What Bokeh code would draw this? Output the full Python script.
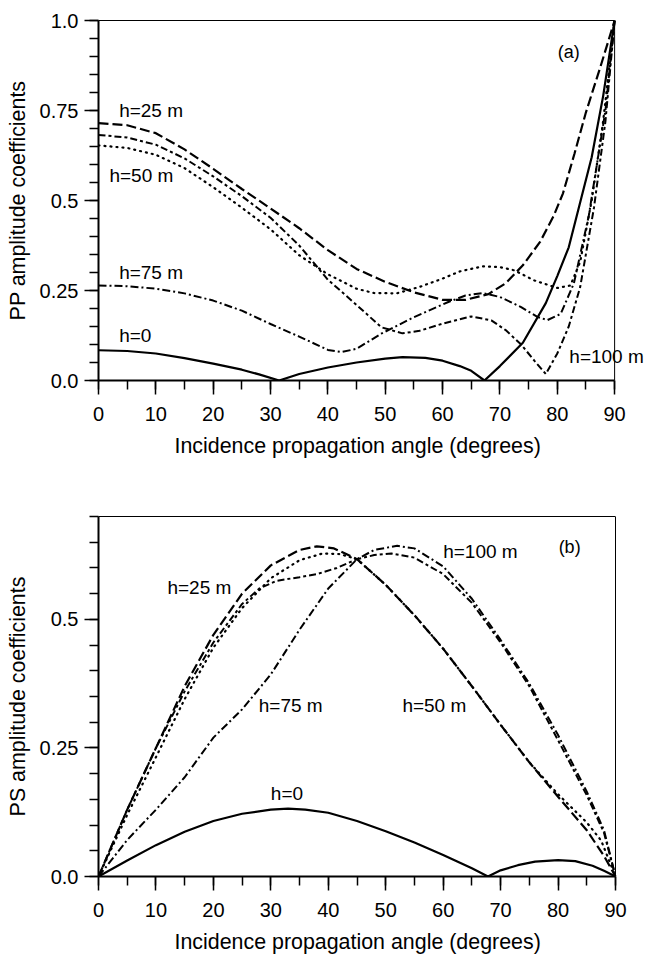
from bokeh.plotting import figure
from bokeh.layouts import column
from bokeh.models import Range1d, FixedTicker, Label, LinearAxis, Span
from bokeh.embed import file_html
from bokeh.resources import INLINE

FONT = "Liberation Sans"

# ---------------- data: panel (a) PP amplitude coefficients ----------------
pp_h0_x = [0, 5, 10, 15, 20, 25, 28, 31.5, 35, 40, 45, 50, 53, 57, 60, 63, 65, 67.3, 70, 74, 78, 80, 82, 84, 86, 88, 90]
pp_h0_y = [0.084, 0.082, 0.075, 0.062, 0.047, 0.030, 0.017, 0.0, 0.018, 0.036, 0.050, 0.061, 0.065, 0.063, 0.055, 0.040, 0.027, 0.0, 0.040, 0.105, 0.215, 0.29, 0.37, 0.495, 0.62, 0.79, 1.0]

pp_h25_x = [0, 5, 10, 15, 20, 25, 30, 35, 40, 45, 50, 55, 60, 64, 68, 71, 74, 77, 79.4, 81, 83, 85, 87.5, 90]
pp_h25_y = [0.715, 0.709, 0.687, 0.642, 0.588, 0.532, 0.478, 0.423, 0.362, 0.31, 0.274, 0.245, 0.224, 0.224, 0.24, 0.27, 0.32, 0.385, 0.458, 0.52, 0.63, 0.745, 0.87, 1.0]

pp_h50_x = [0, 5, 10, 15, 20, 25, 30, 35, 40, 45, 48, 52, 56, 60, 63, 67, 70, 72.5, 76, 80, 82.3, 84, 86, 88, 90]
pp_h50_y = [0.653, 0.646, 0.627, 0.59, 0.537, 0.48, 0.42, 0.348, 0.295, 0.255, 0.243, 0.242, 0.26, 0.283, 0.303, 0.317, 0.315, 0.306, 0.278, 0.257, 0.264, 0.33, 0.5, 0.72, 1.0]

pp_h75_x = [0, 5, 10, 15, 20, 25, 30, 35, 40, 42.4, 45, 49.3, 55, 61, 64, 67, 70, 73.7, 76.6, 78.3, 80.6, 82.9, 85.5, 88.4, 90]
pp_h75_y = [0.264, 0.262, 0.255, 0.242, 0.222, 0.194, 0.157, 0.122, 0.085, 0.079, 0.088, 0.13, 0.176, 0.218, 0.236, 0.243, 0.232, 0.204, 0.176, 0.168, 0.185, 0.27, 0.458, 0.75, 1.0]

pp_h100_x = [0, 5, 10, 15, 20, 25, 30, 35, 40, 45, 49.3, 53, 56, 60, 65, 68.5, 71, 73.7, 76, 78, 80, 82, 84, 86.4, 88.4, 90]
pp_h100_y = [0.682, 0.675, 0.655, 0.617, 0.567, 0.512, 0.452, 0.375, 0.28, 0.21, 0.148, 0.131, 0.138, 0.158, 0.178, 0.167, 0.14, 0.10, 0.055, 0.018, 0.075, 0.15, 0.26, 0.48, 0.72, 1.0]

pp_label_x = [3.6, 1.9, 3.6, 3.6, 82.1, 80.1]
pp_label_y = [0.75, 0.569, 0.301, 0.125, 0.067, 0.912]
pp_label_text = ["h=25 m", "h=50 m", "h=75 m", "h=0", "h=100 m", "(a)"]

# ---------------- data: panel (b) PS amplitude coefficients ----------------
ps_h0_x = [0, 5, 10, 15, 20, 25, 30, 33, 36, 40, 45, 50, 55, 60, 65, 67.8, 70, 73, 76, 80, 83, 86, 88, 90]
ps_h0_y = [0, 0.031, 0.061, 0.087, 0.108, 0.122, 0.130, 0.132, 0.130, 0.124, 0.108, 0.088, 0.066, 0.042, 0.016, 0.0, 0.012, 0.022, 0.029, 0.032, 0.03, 0.021, 0.011, 0.0]

ps_h25_x = [0, 5, 10, 15, 20, 25, 30, 35, 38, 41, 45, 50, 55, 60, 65, 70, 75, 80, 85, 88, 90]
ps_h25_y = [0, 0.13, 0.25, 0.37, 0.47, 0.55, 0.605, 0.635, 0.642, 0.638, 0.617, 0.567, 0.508, 0.443, 0.37, 0.295, 0.222, 0.155, 0.09, 0.04, 0.0]

ps_h50_x = [0, 5, 10, 15, 20, 25, 30, 35, 39, 42, 45, 50, 55, 60, 65, 70, 75, 80, 85, 87.5, 90]
ps_h50_y = [0, 0.12, 0.232, 0.345, 0.445, 0.522, 0.58, 0.615, 0.628, 0.627, 0.617, 0.567, 0.508, 0.443, 0.37, 0.295, 0.222, 0.16, 0.105, 0.07, 0.0]

ps_h75_x = [0, 5, 10, 15, 20, 25, 30, 35, 40, 45, 48, 52, 55, 60, 65, 70, 75, 80, 85, 88, 90]
ps_h75_y = [0, 0.071, 0.13, 0.193, 0.27, 0.325, 0.393, 0.48, 0.56, 0.617, 0.635, 0.643, 0.638, 0.603, 0.54, 0.46, 0.375, 0.275, 0.165, 0.09, 0.0]

ps_h100_x = [0, 5, 10, 15, 20, 25, 28, 31, 35, 38, 41.5, 45, 48, 51, 55, 60, 65, 70, 75, 80, 85, 88, 90]
ps_h100_y = [0, 0.13, 0.25, 0.36, 0.455, 0.53, 0.56, 0.575, 0.582, 0.588, 0.60, 0.617, 0.625, 0.628, 0.62, 0.588, 0.532, 0.455, 0.37, 0.265, 0.158, 0.085, 0.0]

ps_label_x = [12.0, 27.9, 30.0, 52.9, 60.0, 80.1]
ps_label_y = [0.561, 0.332, 0.162, 0.332, 0.632, 0.64]
ps_label_text = ["h=25 m", "h=75 m", "h=0", "h=50 m", "h=100 m", "(b)"]

# ---------------- ticks ----------------
X_MAX = 90
x_major = [0, 10, 20, 30, 40, 50, 60, 70, 80, 90]
x_minor = [0, 5, 10, 15, 20, 25, 30, 35, 40, 45, 50, 55, 60, 65, 70, 75, 80, 85, 90]
pp_y_major = [0, 0.25, 0.5, 0.75, 1.0]
pp_y_labels = ["0.0", "0.25", "0.5", "0.75", "1.0"]
ps_y_major = [0, 0.25, 0.5]
ps_y_labels = ["0.0", "0.25", "0.5"]
pp_y_minor = [round(0.05 * i, 2) for i in range(21)]
ps_y_minor = [round(0.05 * i, 2) for i in range(15)]

# trailing no-break spaces keep the title centred under 0..90 (the frame runs a bit further right)
X_TITLE = "Incidence propagation angle (degrees)" + "\u00a0" * 5

STYLES = {
    "h0": dict(line_dash="solid", line_width=2.2),
    "h25": dict(line_dash="10 4", line_width=2.2),
    "h50": dict(line_dash="1 5", line_width=2.2, line_cap="round"),
    "h75": dict(line_dash="8 3 2 3", line_width=2.0),
    "h100": dict(line_dash="7 3 3 3", line_width=2.0),
}


def make_fig(width, height, bl, bt, bb, data_w, ymax, ymaj, ylab, ymin, ytitle):
    br = 1
    frame_w = width - bl - br
    # frame extends a little past 90 deg so the "h=100 m" text is not clipped
    x_end = X_MAX * frame_w / data_w
    p = figure(width=width, height=height, x_range=Range1d(0, x_end), y_range=Range1d(0, ymax),
               output_backend="svg", toolbar_location=None,
               min_border_left=bl, min_border_right=br, min_border_top=bt, min_border_bottom=bb)
    p.xgrid.visible = False
    p.ygrid.visible = False
    p.outline_line_color = None
    p.background_fill_color = "white"
    p.border_fill_color = "white"

    p.xaxis.ticker = FixedTicker(ticks=x_major, minor_ticks=x_minor)
    p.xaxis.bounds = (0, X_MAX)
    p.yaxis.ticker = FixedTicker(ticks=ymaj, minor_ticks=ymin)
    p.yaxis.major_label_overrides = {k: v for k, v in zip(ymaj, ylab)}
    p.xaxis.axis_label = X_TITLE
    p.yaxis.axis_label = ytitle
    for ax in (p.xaxis[0], p.yaxis[0]):
        ax.axis_line_width = 2
        ax.axis_line_color = "black"
        ax.major_tick_line_width = 1.5
        ax.minor_tick_line_width = 1.5
        ax.major_tick_line_color = "black"
        ax.minor_tick_line_color = "black"
        ax.major_tick_out = 14
        ax.major_tick_in = 0
        ax.minor_tick_out = 9
        ax.minor_tick_in = 0
        ax.major_label_text_font = FONT
        ax.major_label_text_font_size = "20px"
        ax.major_label_text_color = "black"
        ax.axis_label_text_font = FONT
        ax.axis_label_text_font_size = "21.4px"
        ax.axis_label_text_font_style = "normal"
        ax.axis_label_text_color = "black"
    p.xaxis.major_label_standoff = 12
    p.xaxis.axis_label_standoff = 10
    p.yaxis.major_label_standoff = 6
    p.yaxis.axis_label_standoff = 7

    # top border (0..90) and right border at 90 deg
    top = LinearAxis(bounds=(0, X_MAX), ticker=FixedTicker(ticks=[]), axis_line_width=1,
                     axis_line_color="black", major_tick_out=0, major_tick_in=0,
                     minor_tick_out=0, minor_tick_in=0, major_label_text_font_size="0px")
    p.add_layout(top, "above")
    p.add_layout(Span(location=X_MAX, dimension="height", line_color="black", line_width=1))
    return p


def add_labels(p, xs, ys, texts):
    for x, y, t in zip(xs, ys, texts):
        size = "18px" if t.startswith("(") else "19px"
        p.add_layout(Label(x=x, y=y, text=t, x_units="data", y_units="data",
                           text_font=FONT, text_font_size=size, text_align="left",
                           text_baseline="middle", text_color="black"))


# ---------------- panel (a) ----------------
p1 = make_fig(647, 468, 96, 20, 88, 518, 1.0, pp_y_major, pp_y_labels, pp_y_minor, "PP amplitude coefficients")
p1.line(pp_h0_x, pp_h0_y, color="black", **STYLES["h0"])
p1.line(pp_h25_x, pp_h25_y, color="black", **STYLES["h25"])
p1.line(pp_h50_x, pp_h50_y, color="black", **STYLES["h50"])
p1.line(pp_h75_x, pp_h75_y, color="black", **STYLES["h75"])
p1.line(pp_h100_x, pp_h100_y, color="black", **STYLES["h100"])
add_labels(p1, pp_label_x, pp_label_y, pp_label_text)

# ---------------- panel (b) ----------------
p2 = make_fig(647, 488, 98, 48, 79, 517, 0.7, ps_y_major, ps_y_labels, ps_y_minor, "PS amplitude coefficients")
p2.line(ps_h0_x, ps_h0_y, color="black", **STYLES["h0"])
p2.line(ps_h25_x, ps_h25_y, color="black", **STYLES["h25"])
p2.line(ps_h50_x, ps_h50_y, color="black", **STYLES["h50"])
p2.line(ps_h75_x, ps_h75_y, color="black", **STYLES["h75"])
p2.line(ps_h100_x, ps_h100_y, color="black", **STYLES["h100"])
add_labels(p2, ps_label_x, ps_label_y, ps_label_text)

layout = column(p1, p2, spacing=0)
open("out.html", "w").write(file_html(layout, INLINE))
